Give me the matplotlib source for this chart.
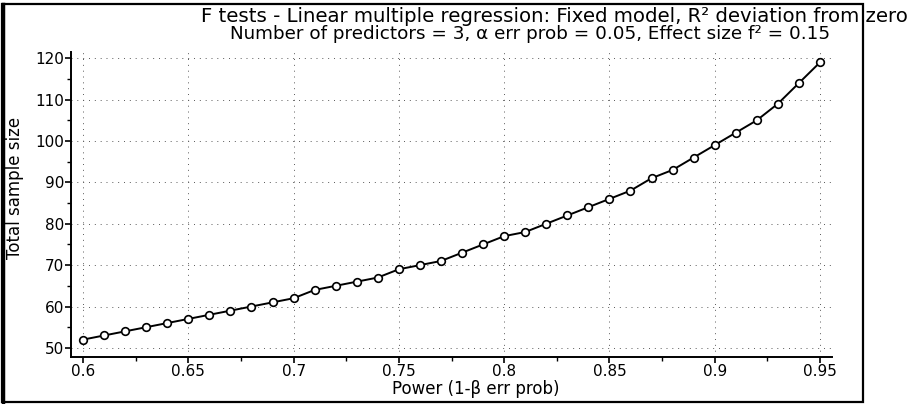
import matplotlib
matplotlib.use("Agg")
import matplotlib.pyplot as plt
from matplotlib.patches import Rectangle
from matplotlib.ticker import MultipleLocator

# power values on the x axis and the required total sample size
power = [0.60, 0.61, 0.62, 0.63, 0.64, 0.65, 0.66, 0.67, 0.68, 0.69,
         0.70, 0.71, 0.72, 0.73, 0.74, 0.75, 0.76, 0.77, 0.78, 0.79,
         0.80, 0.81, 0.82, 0.83, 0.84, 0.85, 0.86, 0.87, 0.88, 0.89,
         0.90, 0.91, 0.92, 0.93, 0.94, 0.95]
sample_size = [52, 53, 54, 55, 56, 57, 58, 59, 60, 61,
               62, 64, 65, 66, 67, 69, 70, 71, 73, 75,
               77, 78, 80, 82, 84, 86, 88, 91, 93, 96,
               99, 102, 105, 109, 114, 119]

x_ticks = [0.6, 0.65, 0.7, 0.75, 0.8, 0.85, 0.9, 0.95]
x_ticklabels = ["0.6", "0.65", "0.7", "0.75", "0.8", "0.85", "0.9", "0.95"]
y_ticks = [50, 60, 70, 80, 90, 100, 110, 120]

title = "F tests - Linear multiple regression: Fixed model, R\u00b2 deviation from zero"
subtitle = "Number of predictors = 3, \u03b1 err prob = 0.05, Effect size f\u00b2 = 0.15"

plt.rcParams["font.family"] = ["DejaVu Sans"]

W, H = 915, 404
fig = plt.figure(figsize=(W / 100, H / 100), dpi=100)

# outer frame around the whole chart (left edge drawn heavier, as in the scan)
fig.patches.append(Rectangle((2 / W, 2 / H), 861 / W, 398 / H, transform=fig.transFigure,
                             fill=False, edgecolor="black", linewidth=1.6))
fig.add_artist(plt.Line2D([2.5 / W, 2.5 / W], [2 / H, 400 / H], transform=fig.transFigure,
                          color="black", linewidth=2.5))

ax = fig.add_axes([71 / W, (H - 357) / H, (832 - 71) / W, (357 - 52) / H])
ax.plot(power, sample_size, color="black", linewidth=1.4, marker="o", markersize=5.5,
        markerfacecolor="white", markeredgecolor="black", markeredgewidth=1.2, zorder=3)

ax.set_xlim(0.5943, 0.9557)
ax.set_ylim(47.8, 121.5)
ax.set_xticks(x_ticks)
ax.set_xticklabels(x_ticklabels)
ax.set_yticks(y_ticks)
ax.xaxis.set_minor_locator(MultipleLocator(0.025))
ax.yaxis.set_minor_locator(MultipleLocator(5))
ax.tick_params(axis="both", which="major", direction="out", length=4.5, width=1.2,
               labelsize=11, pad=0.5)
ax.tick_params(axis="both", which="minor", direction="out", length=3, width=1)

for side in ["top", "right"]:
    ax.spines[side].set_visible(False)
for side in ["left", "bottom"]:
    ax.spines[side].set_linewidth(1.4)

ax.grid(True, which="major", color="0.35", linestyle=(0, (1, 5)), linewidth=0.7)

fig.text(908 / W, 1 - 22 / H, title, ha="right", va="baseline", fontsize=14.2)
fig.text(830 / W, 1 - 39 / H, subtitle, ha="right", va="baseline", fontsize=13.2)
fig.text(15 / W, 1 - 188 / H, "Total sample size", rotation=90, ha="center", va="center",
         fontsize=12)
fig.text(476 / W, 1 - 394 / H, "Power (1-\u03b2 err prob)", ha="center", va="baseline",
         fontsize=12)

fig.savefig("out.png", dpi=100)
